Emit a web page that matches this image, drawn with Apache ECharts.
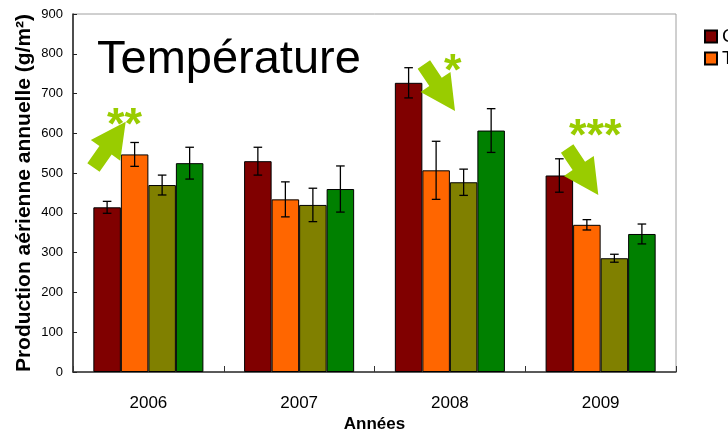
<!DOCTYPE html>
<html>
<head>
<meta charset="utf-8">
<script src="https://cdn.jsdelivr.net/npm/echarts@6/dist/echarts.min.js"></script>
<style>html,body{margin:0;padding:0;background:#fff;}#c{width:728px;height:435px;}</style>
</head>
<body>
<div id="c"></div>
<script>
var categories = ['2006', '2007', '2008', '2009'];
var seriesNames = ['C', 'T', 'P', 'TP'];
var valuesC = [414, 530, 727, 494];
var errorsC = [15, 35, 38, 42];
var valuesT = [547, 434, 507, 370];
var errorsT = [30, 44, 73, 13];
var valuesP = [470, 420, 477, 286];
var errorsP = [25, 42, 33, 10];
var valuesTP = [525, 460, 607, 347];
var errorsTP = [40, 58, 55, 25];
var yTicks = {min: 0, max: 900, interval: 100};
var colors = ['#800000', '#FF6600', '#808000', '#008000'];

var allValues = [valuesC, valuesT, valuesP, valuesTP];
var allErrors = [errorsC, errorsT, errorsP, errorsTP];
var catGap = 0.27;

var errData = [];
for (var s = 0; s < 4; s++) {
  for (var i = 0; i < categories.length; i++) {
    errData.push([i, s, allValues[s][i], allErrors[s][i]]);
  }
}

var barSeries = allValues.map(function (vals, s) {
  return {
    name: seriesNames[s],
    type: 'bar',
    data: vals,
    barGap: '0%',
    barCategoryGap: (catGap * 100) + '%',
    itemStyle: {color: colors[s], borderColor: '#000', borderWidth: 1},
    emphasis: {disabled: true},
    silent: true
  };
});

barSeries.push({
  type: 'custom',
  data: errData,
  silent: true,
  z: 5,
  encode: {x: 0, y: 2},
  renderItem: function (params, api) {
    var cat = api.value(0), s = api.value(1), m = api.value(2), e = api.value(3);
    var band = api.size([1, 0])[0];
    var bw = band * (1 - catGap) / 4;
    var cx = api.coord([cat, 0])[0] + (s - 1.5) * bw;
    var top = api.coord([cat, m + e])[1];
    var bot = api.coord([cat, m - e])[1];
    var cap = 4.3;
    var st = {stroke: '#000', lineWidth: 1.3};
    return {
      type: 'group',
      children: [
        {type: 'line', shape: {x1: cx, y1: top, x2: cx, y2: bot}, style: st},
        {type: 'line', shape: {x1: cx - cap, y1: top, x2: cx + cap, y2: top}, style: st},
        {type: 'line', shape: {x1: cx - cap, y1: bot, x2: cx + cap, y2: bot}, style: st}
      ]
    };
  }
});

function arrow(tipX, tipY, ux, uy) {
  var L = 56, H = 35, W = 18, S = 7.5;
  var nx = -uy, ny = ux;
  function p(a, b) { return [tipX + ux * a + nx * b, tipY + uy * a + ny * b]; }
  return {
    type: 'polygon',
    shape: {points: [p(0, 0), p(-H, W), p(-H, S), p(-L, S), p(-L, -S), p(-H, -S), p(-H, -W)]},
    style: {fill: '#99CC00'},
    z: 10
  };
}
var starFont = 'bold 45px "Liberation Sans", Arial, sans-serif';

var chart = echarts.init(document.getElementById('c'), null, {renderer: 'canvas'});
chart.setOption({
  animation: false,
  backgroundColor: '#fff',
  grid: {left: 73, top: 14, right: 52, bottom: 63, outerBoundsMode: 'none', containLabel: false, show: true, borderColor: '#a0a0a0', borderWidth: 1, backgroundColor: 'transparent'},
  legend: {
    data: ['C', 'T'],
    orient: 'vertical',
    left: 699,
    top: 22,
    itemWidth: 12,
    itemHeight: 12,
    itemGap: 3,
    icon: 'rect',
    textStyle: {color: '#000', fontSize: 19, fontFamily: '"Liberation Sans", Arial, sans-serif'},
    selectedMode: false
  },
  xAxis: {
    type: 'category',
    data: categories,
    name: 'Années',
    nameLocation: 'middle',
    nameGap: 44,
    nameMoveOverlap: false,
    nameTextStyle: {color: '#000', fontSize: 17, fontWeight: 'bold', fontFamily: '"Liberation Sans", Arial, sans-serif'},
    axisLine: {lineStyle: {color: '#333', width: 1.5}},
    axisTick: {show: true, inside: true, length: 6, alignWithLabel: false, lineStyle: {color: '#333'}},
    axisLabel: {color: '#000', fontSize: 17, margin: 23, fontFamily: '"Liberation Sans", Arial, sans-serif'},
    splitLine: {show: false}
  },
  yAxis: {
    type: 'value',
    min: yTicks.min,
    max: yTicks.max,
    interval: yTicks.interval,
    name: 'Production aérienne annuelle (g/m²)',
    nameLocation: 'middle',
    nameGap: 38,
    nameMoveOverlap: false,
    nameRotate: 90,
    nameTextStyle: {color: '#000', fontSize: 21, fontWeight: 'bold', fontFamily: '"Liberation Sans", Arial, sans-serif'},
    axisLine: {show: true, lineStyle: {color: '#222', width: 1.5}},
    axisTick: {show: true, inside: true, length: 4, lineStyle: {color: '#222'}},
    axisLabel: {color: '#000', fontSize: 13, margin: 10, fontFamily: '"Liberation Sans", Arial, sans-serif'},
    splitLine: {show: false}
  },
  graphic: [
    {type: 'text', left: 97, top: 37, z: 10, style: {text: 'Température', font: 'normal 47px "Liberation Sans", Arial, sans-serif', fill: '#000'}},
    arrow(125.7, 121.7, 0.576, -0.817),
    arrow(455, 111, 0.556, 0.830),
    arrow(598.3, 195, 0.556, 0.830),
    {type: 'text', left: 107, top: 104, z: 11, style: {text: '**', font: starFont, fill: '#99CC00'}},
    {type: 'text', left: 444, top: 50, z: 11, style: {text: '*', font: starFont, fill: '#99CC00'}},
    {type: 'text', left: 569, top: 115, z: 11, style: {text: '***', font: starFont, fill: '#99CC00'}}
  ],
  series: barSeries
});
</script>
</body>
</html>
